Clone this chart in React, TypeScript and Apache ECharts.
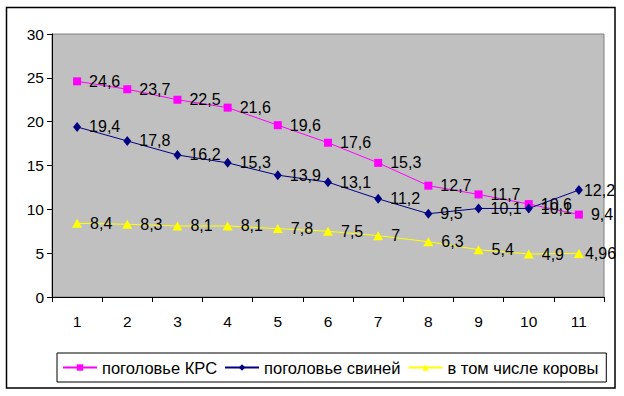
import React, { useEffect, useRef } from "react";
import * as echarts from "echarts";

const categories = ["1", "2", "3", "4", "5", "6", "7", "8", "9", "10", "11"];
const krs = [24.6, 23.7, 22.5, 21.6, 19.6, 17.6, 15.3, 12.7, 11.7, 10.6, 9.4];
const pigs = [19.4, 17.8, 16.2, 15.3, 13.9, 13.1, 11.2, 9.5, 10.1, 10.1, 12.2];
const cows = [8.4, 8.3, 8.1, 8.1, 7.8, 7.5, 7, 6.3, 5.4, 4.9, 4.96];
const seriesNames = ["поголовье КРС", "поголовье свиней", "в том числе коровы"];

const FONT = "Arial, 'Liberation Sans', sans-serif";

const fmt = (p: any) => String(p.value).replace(".", ",");

function buildData(values: number[], tightLast: boolean) {
  return values.map((v, i) =>
    tightLast && i === values.length - 1 ? { value: v, label: { distance: 1 } } : v
  );
}

export default function App() {
  const ref = useRef<HTMLDivElement>(null);
  useEffect(() => {
    document.body.style.margin = "0";
    const chart = echarts.init(ref.current!, null, { renderer: "svg" });
    const labelBase = {
      show: true,
      position: "right",
      distance: 8,
      color: "#000",
      fontSize: 16,
      fontFamily: FONT,
      formatter: fmt,
    };
    chart.setOption({
      animation: false,
      backgroundColor: "#fff",
      textStyle: { fontFamily: FONT },
      graphic: [
        {
          type: "rect",
          shape: { x: 6.5, y: 7.5, width: 608.5, height: 380.5 },
          style: { fill: "none", stroke: "#000", lineWidth: 1.5 },
          z: 100,
        },
      ],
      grid: {
        left: 52,
        top: 34,
        right: 20,
        bottom: 99,
        show: true,
        backgroundColor: "#C0C0C0",
        borderColor: "#808080",
        borderWidth: 1,
      },
      legend: {
        left: 57,
        top: 353,
        padding: [6, 8, 6, 5],
        borderColor: "#000",
        borderWidth: 1,
        itemWidth: 34,
        itemHeight: 8,
        itemGap: 7,
        textStyle: { fontSize: 16.5, fontFamily: FONT, color: "#000" },
        data: seriesNames,
      },
      xAxis: {
        type: "category",
        data: categories,
        boundaryGap: true,
        axisLine: { lineStyle: { color: "#000", width: 1 } },
        axisTick: { show: true, length: 5, lineStyle: { color: "#000" } },
        axisLabel: { color: "#000", fontSize: 15.5, fontFamily: FONT, margin: 16 },
        splitLine: { show: false },
      },
      yAxis: {
        type: "value",
        min: 0,
        max: 30,
        interval: 5,
        axisLine: { show: true, lineStyle: { color: "#000", width: 1 } },
        axisTick: { show: true, length: 5, lineStyle: { color: "#000" } },
        axisLabel: { color: "#000", fontSize: 15.5, fontFamily: FONT, margin: 8 },
        splitLine: { show: false },
      },
      series: [
        {
          name: seriesNames[0],
          type: "line",
          data: buildData(krs, false),
          symbol: "rect",
          symbolSize: 8,
          color: "#FF00FF",
          lineStyle: { color: "#FF00FF", width: 1 },
          itemStyle: { color: "#FF00FF" },
          label: labelBase,
          z: 3,
        },
        {
          name: seriesNames[1],
          type: "line",
          data: buildData(pigs, true),
          symbol: "diamond",
          symbolSize: [8, 10],
          color: "#000080",
          lineStyle: { color: "#000080", width: 1 },
          itemStyle: { color: "#000080" },
          label: labelBase,
          z: 4,
        },
        {
          name: seriesNames[2],
          type: "line",
          data: buildData(cows, true),
          symbol: "triangle",
          symbolSize: [10, 9],
          color: "#FFFF00",
          lineStyle: { color: "#FFFF00", width: 1 },
          itemStyle: { color: "#FFFF00" },
          label: labelBase,
          z: 2,
        },
      ],
    });
    return () => chart.dispose();
  }, []);
  return <div ref={ref} style={{ width: 624, height: 396 }} />;
}
